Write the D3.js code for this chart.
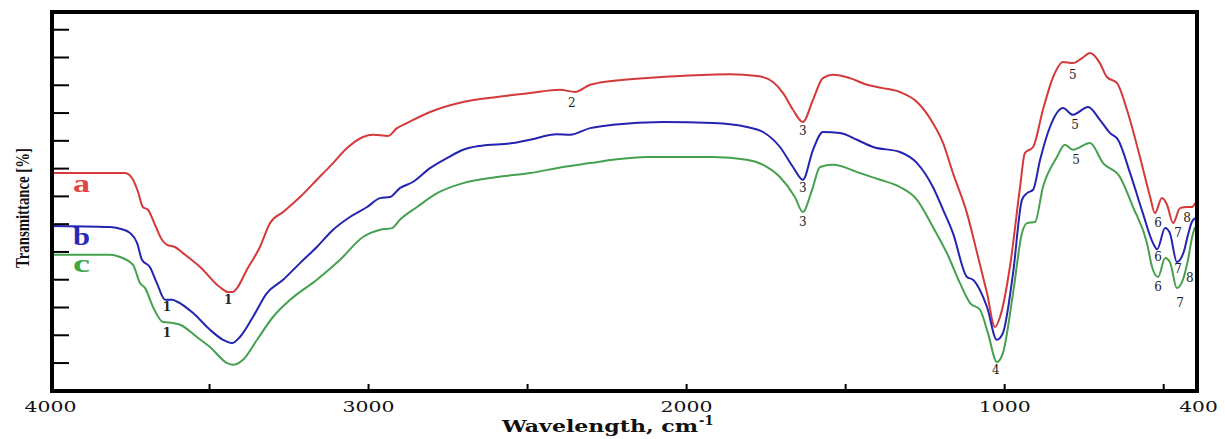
<!DOCTYPE html>
<html><head><meta charset="utf-8">
<script src="https://cdn.jsdelivr.net/npm/d3@7"></script>
<style>html,body{margin:0;padding:0;background:#fff;} svg{display:block}</style>
</head><body><svg id="c" width="1225" height="439"></svg>
<script>
const waveA = [4000,3843,3764,3739,3723,3708,3692,3670,3648,3632,3607,3582,3528,3466,3440,3425,3412,3381,3340,3308,3267,3214,3161,3110,3066,3016,2984,2937,2909,2878,2805,2701,2595,2491,2397,2349,2302,2280,2176,2019,1862,1777,1727,1695,1664,1633,1601,1570,1538,1485,1431,1381,1328,1274,1224,1192,1161,1117,1085,1054,1029,1013,982,950,935,909,878,846,815,784,755,730,699,677,645,614,573,541,526,504,488,469,447,425,409,400];
const transA = [39.1,39.1,39.1,37.9,35.7,33.0,32.5,29.8,27.1,26.2,25.8,24.7,22.2,18.6,17.7,17.7,18.4,21.7,25.8,30.1,32.1,34.8,37.9,40.9,43.6,45.6,46.0,45.8,47.2,48.1,50.1,51.9,52.8,53.5,54.1,53.7,55.0,55.3,56.0,56.6,56.9,56.6,55.5,53.5,50.5,48.3,52.3,56.2,56.8,56.2,55.0,54.4,53.7,51.9,48.1,44.5,39.1,31.9,24.7,17.5,11.4,13.2,22.2,36.6,42.7,43.8,50.5,56.4,59.1,58.9,59.8,60.7,58.9,56.4,55.3,50.5,42.0,34.8,31.9,34.6,33.4,30.1,32.8,33.0,33.0,33.7];
const waveB = [4000,3811,3774,3748,3726,3711,3686,3664,3638,3616,3598,3550,3497,3456,3428,3403,3362,3318,3267,3214,3161,3110,3057,3003,2962,2931,2900,2859,2805,2752,2701,2648,2544,2491,2406,2365,2302,2230,2073,1915,1809,1758,1705,1664,1633,1601,1570,1516,1463,1412,1328,1274,1224,1192,1161,1117,1098,1054,1023,1004,972,944,928,909,887,856,815,784,736,699,667,642,604,564,532,519,494,479,457,435,422,410,400];
const transB = [29.6,29.4,29.0,28.3,26.5,23.5,22.2,19.3,16.3,16.3,15.9,13.9,10.9,9.1,8.5,9.6,13.2,17.5,19.9,22.9,25.8,28.9,31.2,33.0,34.6,34.8,36.4,37.5,40.0,41.8,43.3,44.0,44.5,45.1,46.1,46.0,47.2,47.8,48.3,48.1,47.4,46.5,43.8,40.2,37.9,43.3,46.5,46.3,45.1,43.8,42.9,40.9,36.6,32.5,28.3,20.4,19.9,15.0,9.1,10.3,21.1,34.3,35.5,36.1,41.5,47.4,50.8,49.6,51.0,48.7,46.3,45.1,39.1,31.9,26.5,25.4,29.2,28.3,23.1,25.0,28.0,30.3,31.0];
const waveC = [4000,3811,3780,3739,3717,3701,3676,3645,3613,3591,3538,3497,3443,3425,3393,3349,3299,3245,3161,3088,3016,2962,2925,2900,2846,2783,2701,2595,2491,2387,2302,2230,2123,1915,1809,1758,1705,1658,1633,1604,1579,1538,1453,1390,1328,1274,1224,1180,1139,1107,1076,1051,1023,1004,972,944,928,903,878,834,809,784,730,689,636,595,551,535,516,494,479,457,438,422,409,400];
const transC = [24.4,24.4,24.0,22.6,19.3,18.4,15.0,12.3,12.1,11.8,9.6,7.8,4.9,4.6,5.5,9.1,13.2,16.3,19.9,23.5,27.6,28.9,29.2,30.7,33.0,35.5,37.3,38.4,39.1,40.2,40.9,41.5,42.0,42.0,41.5,40.6,38.4,34.8,32.1,36.1,40.2,40.6,39.1,37.9,36.6,34.3,29.4,24.7,19.3,15.7,14.5,10.3,5.1,6.7,17.5,28.3,30.1,30.3,36.6,42.0,44.2,43.3,44.5,40.9,38.4,33.0,26.5,22.2,20.4,23.8,23.1,18.4,19.9,23.5,27.6,29.4];

const seriesNames = ["a","b","c"];
const seriesColors = ["#d43a3a","#2424b0","#45a04f"];
const labelColors = ["#e04444","#2a2ab8","#3fa847"];
const seriesLabelWave = [3928,3928,3928];
const seriesLabelTrans = [35.7,26.2,21.3];

const peakText  = ["1","1","1","2","3","3","3","4","5","5","5","6","6","6","7","7","7","8","8"];
const peakWave  = [3440,3632,3632,2359,1633,1633,1633,1026,784,777,774,516,516,516,453,453,447,425,416];
const peakTrans = [16.3,15.0,10.3,51.7,46.7,36.4,30.3,3.7,56.8,47.8,41.5,30.1,24.0,18.6,28.3,21.8,15.7,31.0,20.2];

const xTickMinor = [3500,3000,2500,2000,1500,1000,500];
const xTickLabels = [4000,3000,2000,1000,400];
const yTicks = [5,10,15,20,25,30,35,40,45,50,55,60,65];

const svg = d3.select("#c");
const x = d3.scaleLinear().domain([4000,400]).range([50,1195]);
const y = d3.scaleLinear().domain([-0.3,68.1]).range([392,12]);

// series
const line = d3.line().x(d=>x(d[0])).y(d=>y(d[1])).curve(d3.curveMonotoneX);
const sets = [[waveA,transA],[waveB,transB],[waveC,transC]];
sets.forEach((s,i)=>{
  const pts = s[0].map((w,j)=>[w,s[1][j]]);
  svg.append("path").attr("d",line(pts)).attr("fill","none")
    .attr("stroke",seriesColors[i]).attr("stroke-width",2).attr("stroke-linejoin","round");
});

// y ticks (inward, no labels)
svg.append("g").attr("transform","translate(52,0)")
  .call(d3.axisRight(y).tickValues(yTicks).tickSize(17).tickFormat(""))
  .call(g=>g.select(".domain").remove())
  .call(g=>g.selectAll("line").attr("stroke","#000").attr("stroke-width",2));

// x minor ticks (inward)
svg.append("g").attr("transform","translate(0,391)")
  .call(d3.axisTop(x).tickValues(xTickMinor).tickSize(7).tickFormat(""))
  .call(g=>g.select(".domain").remove())
  .call(g=>g.selectAll("line").attr("stroke","#000").attr("stroke-width",2));

// x labels
const xl = svg.append("g").attr("transform","translate(0,391)")
  .call(d3.axisBottom(x).tickValues(xTickLabels).tickSize(0).tickFormat(d3.format("d")))
  .call(g=>g.select(".domain").remove());
xl.selectAll("text")
  .attr("y",21).attr("dy",0)
  .attr("font-family","'DejaVu Serif', serif").attr("font-size",15).attr("fill","#111")
  .each(function(d){ const n=String(d).length; d3.select(this).attr("textLength",n*13.5-2).attr("lengthAdjust","spacingAndGlyphs"); });
xl.selectAll("text").filter(d=>d===400).attr("dx",3);

// frame
svg.append("rect").attr("x",52).attr("y",12).attr("width",1145).attr("height",379)
  .attr("fill","none").attr("stroke","#000").attr("stroke-width",4);

// axis titles
const xt = svg.append("text").attr("x",502).attr("y",432)
  .attr("font-family","'DejaVu Serif', serif").attr("font-weight","bold").attr("font-size",16).attr("fill","#111");
xt.append("tspan").text("Wavelength, cm").attr("textLength",196).attr("lengthAdjust","spacingAndGlyphs");
xt.append("tspan").text("-1").attr("dx",1).attr("dy",-7).attr("font-size",13);

svg.append("text").attr("transform","translate(29,208) rotate(-90)")
  .attr("text-anchor","middle")
  .attr("font-family","'Liberation Serif', serif").attr("font-weight","bold").attr("font-size",19).attr("fill","#111")
  .attr("textLength",120).attr("lengthAdjust","spacingAndGlyphs")
  .text("Transmittance [%]");

// series letters
seriesNames.forEach((n,i)=>{
  svg.append("text").attr("x",x(seriesLabelWave[i])).attr("y",y(seriesLabelTrans[i]))
    .attr("font-family","'Liberation Serif', serif").attr("font-weight","bold").attr("font-size",25)
    .attr("fill",labelColors[i]).attr("textLength",17).attr("lengthAdjust","spacingAndGlyphs").text(n);
});

// peak numbers
peakText.forEach((t,i)=>{
  svg.append("text").attr("x",x(peakWave[i])).attr("y",y(peakTrans[i]))
    .attr("text-anchor","middle").attr("dominant-baseline","central")
    .attr("font-family","'DejaVu Serif', serif").attr("font-size",12).attr("fill","#222")
    .attr("font-weight", t==="1" ? "bold" : "normal")
    .text(t);
});
</script></body></html>
